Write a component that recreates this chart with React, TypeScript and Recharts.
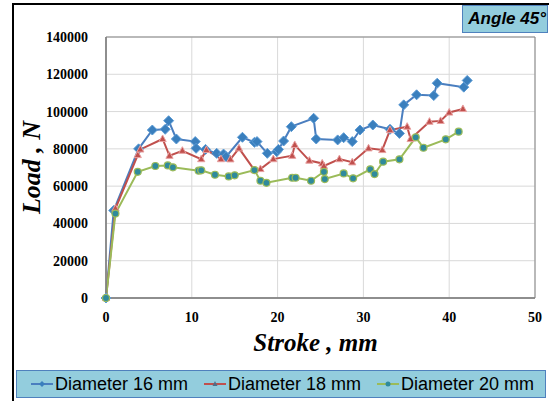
import React from 'react';
import { LineChart, Line, XAxis, YAxis, CartesianGrid, ReferenceArea } from 'recharts';

// Stroke (mm) / load (N)
const d16Stroke = [0, 0.9, 3.8, 5.4, 6.9, 7.3, 8.2, 10.4, 10.5, 11.6, 12.9, 13.7, 14.0, 15.9, 17.3, 17.6, 18.8, 19.9, 20.1, 20.7, 21.6, 24.2, 24.5, 27.0, 27.7, 28.7, 29.6, 31.1, 33.1, 34.2, 34.7, 36.2, 38.2, 38.6, 41.7, 42.1];
const d16Load = [0, 47000, 80000, 90100, 90500, 95100, 85300, 83900, 80300, 79700, 77600, 77200, 75800, 86200, 83500, 83900, 77600, 78500, 79700, 84200, 91900, 96400, 85300, 84800, 86000, 83900, 90100, 92800, 90500, 88300, 103600, 109000, 108600, 115200, 113100, 116700];

const d18Stroke = [0, 1.1, 3.7, 4.0, 6.6, 7.4, 8.9, 11.1, 11.7, 13.4, 14.5, 15.5, 17.3, 18.0, 19.5, 21.7, 22.0, 23.7, 25.2, 25.4, 27.2, 28.7, 30.6, 32.2, 33.1, 35.1, 35.5, 37.7, 39.0, 40.0, 41.6];
const d18Load = [0, 48000, 76700, 79700, 85300, 76300, 79000, 74500, 79400, 74500, 74400, 80300, 68600, 69200, 74500, 76300, 82100, 73700, 72200, 70800, 74500, 72800, 80300, 79400, 90100, 91900, 85300, 94600, 95000, 99500, 101400];

const d20Stroke = [0, 1.1, 3.7, 5.75, 7.2, 7.8, 10.8, 11.1, 12.7, 14.3, 15.0, 17.3, 18.0, 18.7, 21.7, 22.1, 23.9, 25.4, 25.5, 27.7, 28.8, 30.8, 31.3, 32.3, 34.2, 36.1, 37.0, 39.6, 41.1];
const d20Load = [0, 45300, 67700, 70800, 71100, 70100, 68300, 68500, 66100, 65200, 65800, 68600, 62900, 61800, 64500, 64500, 62900, 67700, 63800, 66800, 64200, 69000, 66500, 73100, 74400, 86200, 80600, 85100, 89200];

const xTicks = [0, 10, 20, 30, 40, 50];
const yTicks = [0, 20000, 40000, 60000, 80000, 100000, 120000, 140000];

const toPoints = (xs: number[], ys: number[]) => xs.map((x, i) => ({ x, y: ys[i] }));

const series = [
  { name: 'Diameter 16 mm', data: toPoints(d16Stroke, d16Load), color: '#4a7ebf', marker: 'diamond' },
  { name: 'Diameter 18 mm', data: toPoints(d18Stroke, d18Load), color: '#c0504d', marker: 'triangle' },
  { name: 'Diameter 20 mm', data: toPoints(d20Stroke, d20Load), color: '#9bbb59', marker: 'circle' },
];

const Marker = ({ cx, cy, kind }: any) => {
  if (cx == null || cy == null) return null;
  if (kind === 'diamond') {
    return <path d={`M${cx},${cy - 5} L${cx + 5},${cy} L${cx},${cy + 5} L${cx - 5},${cy} Z`} fill="#3a7fbd" stroke="#5b9bd5" strokeWidth={1} />;
  }
  if (kind === 'triangle') {
    return <path d={`M${cx},${cy - 4} L${cx + 3.6},${cy + 2.6} L${cx - 3.6},${cy + 2.6} Z`} fill="#c0504d" stroke="#e8a0a0" strokeWidth={1} />;
  }
  return <circle cx={cx} cy={cy} r={3.5} fill="#2f8a9c" stroke="#9bbb59" strokeWidth={1.2} />;
};

const LegendIcon = ({ color, kind }: any) => (
  <svg width={22} height={12} style={{ marginRight: 2 }}>
    <line x1={0} y1={6} x2={22} y2={6} stroke={color} strokeWidth={2} />
    {kind === 'diamond' && <path d="M11,3 L14,6 L11,9 L8,6 Z" fill="#3a7fbd" />}
    {kind === 'triangle' && <path d="M11,3 L13.5,8 L8.5,8 Z" fill="#4f6f8a" />}
    {kind === 'circle' && <circle cx={11} cy={6} r={2.5} fill="#2f8a9c" />}
  </svg>
);

export default function App() {
  return (
    <div style={{ position: 'absolute', left: 0, top: 0, width: 549, height: 401, background: '#fff', overflow: 'hidden' }}>
      {/* outer frame */}
      <div style={{ position: 'absolute', left: 12, top: 3, width: 535, height: 410, borderLeft: '2px solid #000', borderTop: '2px solid #000', borderRight: '1px solid #999' }} />
      <LineChart width={549} height={401} margin={{ top: 37, right: 14, left: 0, bottom: 0 }}>
        <CartesianGrid stroke="#d9d9d9" strokeWidth={1} />
        <XAxis
          type="number"
          dataKey="x"
          domain={[0, 50]}
          ticks={xTicks}
          height={103}
          axisLine={{ stroke: '#808080', strokeWidth: 1.5 }}
          tickLine={false}
          tickMargin={8}
          tick={{ fontFamily: 'Liberation Serif', fontWeight: 'bold', fontSize: 14, fill: '#000' }}
          label={{ value: 'Stroke , mm', position: 'insideBottom', offset: 50, dx: -5, style: { fontFamily: 'Liberation Serif', fontWeight: 'bold', fontStyle: 'italic', fontSize: 25, fill: '#000' } }}
          allowDuplicatedCategory={false}
        />
        <YAxis
          type="number"
          dataKey="y"
          domain={[0, 140000]}
          ticks={yTicks}
          width={106}
          axisLine={{ stroke: '#808080', strokeWidth: 1.5 }}
          tickLine={false}
          tickMargin={12}
          tick={{ fontFamily: 'Liberation Serif', fontWeight: 'bold', fontSize: 14, fill: '#000' }}
          label={{ value: 'Load , N', angle: -90, position: 'center', dx: -22, style: { fontFamily: 'Liberation Serif', fontWeight: 'bold', fontStyle: 'italic', fontSize: 26, fill: '#000' } }}
        />
        <ReferenceArea x1={0} x2={50} y1={0} y2={140000} fill="none" stroke="#868686" strokeWidth={1} />
        {series.map((s) => (
          <Line
            key={s.name}
            name={s.name}
            data={s.data}
            dataKey="y"
            type="linear"
            stroke={s.color}
            strokeWidth={2}
            dot={(p: any) => <Marker key={`${s.name}-${p.index}`} cx={p.cx} cy={p.cy} kind={s.marker} />}
            activeDot={false}
            isAnimationActive={false}
          />
        ))}
      </LineChart>
      {/* title box */}
      <div style={{ position: 'absolute', left: 462, top: 5, width: 83, height: 26, background: '#93cddd', border: '1px solid #4f81bd', fontFamily: 'Liberation Sans', fontWeight: 'bold', fontStyle: 'italic', fontSize: 17, lineHeight: '26px', textAlign: 'right', paddingRight: 1, boxSizing: 'content-box' }}>
        Angle 45°
      </div>
      {/* legend */}
      <div style={{ position: 'absolute', left: 16, top: 370, width: 528, height: 26, background: '#93cddd', border: '1px solid #4f81bd', display: 'flex', alignItems: 'center', fontFamily: 'Liberation Sans', fontSize: 18, color: '#000' }}>
        {series.map((s, i) => (
          <div key={s.name} style={{ display: 'flex', alignItems: 'center', marginLeft: i === 0 ? 14 : 16 }}>
            <LegendIcon color={s.color} kind={s.marker} />
            <span>{s.name}</span>
          </div>
        ))}
      </div>
    </div>
  );
}
